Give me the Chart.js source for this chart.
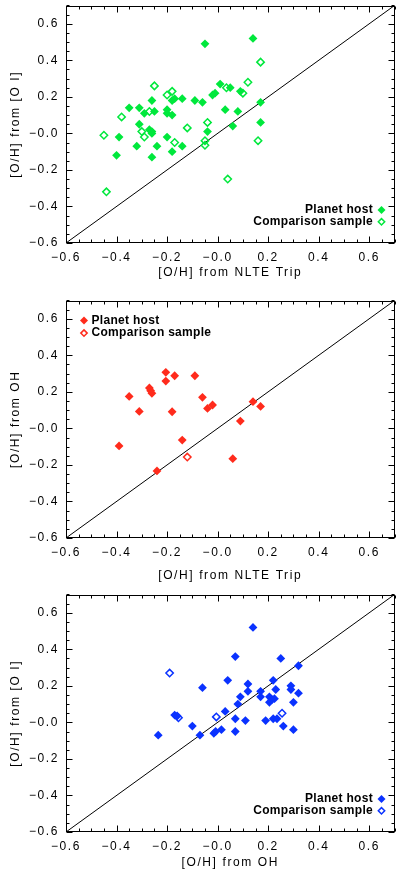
<!DOCTYPE html>
<html>
<head>
<meta charset="utf-8">
<script src="https://cdn.jsdelivr.net/npm/chart.js@4.4.1/dist/chart.umd.min.js"></script>
<style>
    html, body { margin: 0; padding: 0; background: #fff; overflow: hidden; }
    .panel { position: absolute; left: 0; width: 400px; }
</style>
</head>
<body>
<div class="panel" style="top:0;height:290px"><canvas id="chartTripOI"></canvas></div>
<div class="panel" style="top:295px;height:290px"><canvas id="chartTripOH"></canvas></div>
<div class="panel" style="top:589px;height:283px"><canvas id="chartOHOI"></canvas></div>
<script>
// axis ticks shared by all three panels
const tickValues = [-0.6, -0.4, -0.2, 0, 0.2, 0.4, 0.6];
const tickLabels = ['\u22120.6', '\u22120.4', '\u22120.2', '\u22120.0', '0.2', '0.4', '0.6'];
const oneToOne = [-0.6, 0.7];

// panel 1: [O/H] NLTE Trip (x) vs [O/H] [O I] (y)
const hostTrip1 = [-0.05, 0.14, -0.35, -0.31, -0.29, -0.26, -0.25, -0.20, -0.20, -0.18, -0.18, -0.17, -0.14, -0.09,
    -0.06, -0.02, -0.01, 0.01, 0.03, -0.31, -0.27, -0.26, -0.26, -0.39, -0.40, -0.32, -0.26, -0.24, -0.20,
    -0.18, -0.14, -0.04, 0.05, 0.09, 0.08, 0.06, 0.17, 0.17];
const hostOI1 = [0.49, 0.52, 0.14, 0.14, 0.11, 0.18, 0.12, 0.13, 0.11, 0.10, 0.18, 0.19, 0.19, 0.18,
    0.17, 0.21, 0.22, 0.27, 0.13, 0.05, 0.02, 0.01, 0.00, -0.02, -0.12, -0.07, -0.13, -0.07, -0.02,
    -0.10, -0.07, 0.01, 0.25, 0.23, 0.12, 0.04, 0.17, 0.06];
const compTrip1 = [-0.45, -0.38, -0.30, -0.29, -0.27, -0.25, -0.20, -0.18, -0.17, -0.12, -0.05, -0.05, -0.04,
    -0.44, 0.035, 0.17, 0.12, 0.10, 0.16, 0.04];
const compOI1 = [-0.01, 0.09, 0.01, -0.02, 0.12, 0.26, 0.21, 0.23, -0.05, 0.03, -0.04, -0.065, 0.06,
    -0.32, 0.25, 0.39, 0.28, 0.22, -0.04, -0.25];

// panel 2: [O/H] NLTE Trip (x) vs [O/H] OH (y)
const hostTrip2 = [-0.205, -0.205, -0.17, -0.09, -0.27, -0.265, -0.26, -0.35, -0.31, -0.18, -0.06, -0.04, -0.02,
    0.14, 0.17, 0.09, -0.14, -0.39, -0.24, 0.06];
const hostOH2 = [0.307, 0.259, 0.288, 0.288, 0.221, 0.206, 0.192, 0.175, 0.093, 0.091, 0.17, 0.109, 0.128,
    0.146, 0.12, 0.04, -0.064, -0.096, -0.233, -0.166];
const compTrip2 = [-0.12];
const compOH2 = [-0.157];

// panel 3: [O/H] OH (x) vs [O/H] [O I] (y)
const hostOH3 = [0.14, 0.07, 0.25, 0.32, 0.04, 0.22, 0.12, -0.06, 0.12, 0.17, 0.17, 0.23, 0.29, 0.29, 0.32,
    0.09, 0.08, 0.205, 0.215, 0.225, 0.205, 0.30, -0.17, -0.16, 0.03, 0.07, 0.11, 0.19, 0.22, 0.235,
    0.26, 0.30, -0.10, -0.235, -0.07, -0.015, -0.008, 0.015, 0.07];
const hostOI3 = [0.52, 0.36, 0.35, 0.31, 0.23, 0.23, 0.21, 0.19, 0.17, 0.17, 0.14, 0.18, 0.20, 0.18, 0.16,
    0.14, 0.10, 0.14, 0.125, 0.13, 0.11, 0.11, 0.04, 0.035, 0.06, 0.02, 0.01, 0.01, 0.02, 0.02,
    -0.02, -0.04, -0.02, -0.07, -0.07, -0.06, -0.05, -0.04, -0.05];
const compOH3 = [-0.19, -0.155, -0.005, 0.255];
const compOI3 = [0.27, 0.025, 0.03, 0.05];

const FONT = '"Liberation Sans", Arial, sans-serif';
const GREEN = '#00e83c';
const RED = '#ff2b1c';
const BLUE = '#0a32ff';

function points(xs, ys) {
    return xs.map((x, i) => ({x: x, y: ys[i]}));
}

// frame with inward ticks on all four sides, IDL style
const frameTicks = {
    id: 'frameTicks',
    beforeDraw(chart) {
        chart.ctx.letterSpacing = '1.6px';
    },
    afterDatasetsDraw(chart) {
        const ctx = chart.ctx;
        const a = chart.chartArea;
        const xs = chart.scales.x, ys = chart.scales.y;
        const L = Math.round(a.left) + 0.5, R = Math.round(a.right) - 0.5;
        const T = Math.round(a.top) + 0.5, B = Math.round(a.bottom) - 0.5;
        ctx.save();
        ctx.strokeStyle = '#000';
        ctx.lineWidth = 1;
        ctx.strokeRect(L, T, R - L, B - T);
        ctx.beginPath();
        for (let k = -12; k <= 14; k++) {
            const v = k * 0.05;
            const len = k % 4 === 0 ? 6 : 3;
            const px = Math.round(xs.getPixelForValue(v)) + 0.5;
            const py = Math.round(ys.getPixelForValue(v)) + 0.5;
            ctx.moveTo(px, B); ctx.lineTo(px, B - len);
            ctx.moveTo(px, T); ctx.lineTo(px, T + len);
            ctx.moveTo(L, py); ctx.lineTo(L + len, py);
            ctx.moveTo(R, py); ctx.lineTo(R - len, py);
        }
        ctx.stroke();
        ctx.restore();
    }
};

function diamond(ctx, x, y, r, color, filled) {
    ctx.beginPath();
    ctx.moveTo(x - r, y); ctx.lineTo(x, y - r); ctx.lineTo(x + r, y); ctx.lineTo(x, y + r);
    ctx.closePath();
    if (filled) {
        ctx.fillStyle = color;
        ctx.fill();
    } else {
        ctx.strokeStyle = color;
        ctx.lineWidth = 1.5;
        ctx.stroke();
    }
}

// legend inside the plot box
const sampleKey = {
    id: 'sampleKey',
    afterDraw(chart, args, opts) {
        const ctx = chart.ctx;
        const a = chart.chartArea;
        const sets = chart.data.datasets.slice(0, 2);
        ctx.save();
        ctx.font = 'bold 12px ' + FONT;
        ctx.letterSpacing = '0.3px';
        ctx.textBaseline = 'middle';
        sets.forEach((ds, i) => {
            ctx.fillStyle = '#000';
            if (opts.corner === 'right') {
                const y = a.bottom - 33 + i * 11.8;
                ctx.textAlign = 'right';
                ctx.fillText(ds.label, 373, y);
                diamond(ctx, 381.5, y, i === 0 ? 4 : 3.2, opts.color, i === 0);
            } else {
                const y = a.top + 20 + i * 12.6;
                ctx.textAlign = 'left';
                ctx.fillText(ds.label, 91.5, y);
                diamond(ctx, 84, y, i === 0 ? 4 : 3.2, opts.color, i === 0);
            }
        });
        ctx.restore();
    }
};

function makeChart(id, hx, hy, cx, cy, color, xTitle, yTitle, axisHeight, xTitlePad, corner) {
    const ctx = document.getElementById(id).getContext('2d');
    return new Chart(ctx, {
        type: 'scatter',
        data: {
            datasets: [
                {
                    label: 'Planet host',
                    data: points(hx, hy),
                    pointStyle: 'rectRot',
                    pointRadius: 4.4,
                    pointBorderWidth: 0,
                    backgroundColor: color,
                    borderColor: color
                },
                {
                    label: 'Comparison sample',
                    data: points(cx, cy),
                    pointStyle: 'rectRot',
                    pointRadius: 3.7,
                    pointBorderWidth: 1.5,
                    backgroundColor: 'rgba(0,0,0,0)',
                    borderColor: color
                },
                {
                    type: 'line',
                    label: '1:1',
                    data: points(oneToOne, oneToOne),
                    borderColor: '#000',
                    borderWidth: 1,
                    pointRadius: 0,
                    fill: false
                }
            ]
        },
        options: {
            responsive: true,
            maintainAspectRatio: false,
            animation: false,
            devicePixelRatio: 1,
            layout: { padding: { top: 5, left: 0, right: 1, bottom: 0 } },
            plugins: {
                legend: { display: false },
                tooltip: { enabled: false },
                sampleKey: { corner: corner, color: color }
            },
            scales: {
                x: {
                    type: 'linear',
                    min: -0.6,
                    max: 0.7,
                    afterBuildTicks: s => { s.ticks = tickValues.map(v => ({value: v})); },
                    afterFit: s => { s.height = axisHeight; s.paddingLeft = 0; s.paddingRight = 0; },
                    grid: { display: false, drawTicks: false },
                    border: { display: false },
                    ticks: {
                        autoSkip: false,
                        maxRotation: 0,
                        padding: 7,
                        color: '#000',
                        font: { size: 12, family: FONT },
                        callback: (v, i) => tickLabels[i]
                    },
                    title: {
                        display: true,
                        text: xTitle,
                        color: '#000',
                        font: { size: 12, family: FONT },
                        padding: { top: 0, bottom: xTitlePad }
                    }
                },
                y: {
                    type: 'linear',
                    min: -0.6,
                    max: 0.7,
                    afterBuildTicks: s => { s.ticks = tickValues.map(v => ({value: v})); },
                    afterFit: s => { s.width = 66; s.paddingTop = 0; s.paddingBottom = 0; },
                    grid: { display: false, drawTicks: false },
                    border: { display: false },
                    ticks: {
                        autoSkip: false,
                        padding: 7,
                        color: '#000',
                        font: { size: 12, family: FONT },
                        callback: (v, i) => tickLabels[i]
                    },
                    title: {
                        display: true,
                        text: yTitle,
                        color: '#000',
                        font: { size: 12, family: FONT },
                        padding: { top: 8, bottom: 0 }
                    }
                }
            }
        },
        plugins: [frameTicks, sampleKey]
    });
}

makeChart('chartTripOI', hostTrip1, hostOI1, compTrip1, compOI1, GREEN,
    '[O/H] from NLTE Trip', '[O/H] from [O I]', 47, 10, 'right');
makeChart('chartTripOH', hostTrip2, hostOH2, compTrip2, compOH2, RED,
    '[O/H] from NLTE Trip', '[O/H] from OH', 47, 2, 'left');
makeChart('chartOHOI', hostOH3, hostOI3, compOH3, compOI3, BLUE,
    '[O/H] from OH', '[O/H] from [O I]', 40, 2, 'right');
</script>
</body>
</html>
